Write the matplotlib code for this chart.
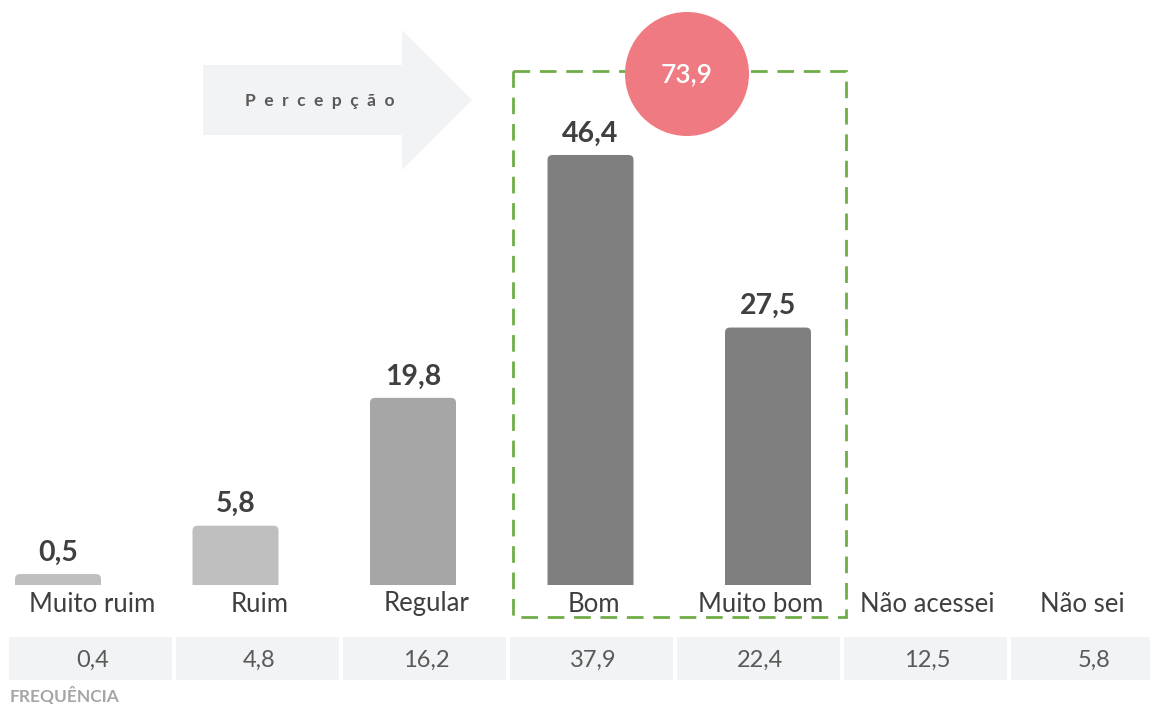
import matplotlib
matplotlib.use("Agg")
import matplotlib.pyplot as plt
from matplotlib.patches import FancyBboxPatch, Polygon, Rectangle, Circle

# ---- data ----
categories = ["Muito ruim", "Ruim", "Regular", "Bom", "Muito bom", "Não acessei", "Não sei"]
perception = [0.5, 5.8, 19.8, 46.4, 27.5]          # bars (first five categories)
frequency = [0.4, 4.8, 16.2, 37.9, 22.4, 12.5, 5.8]  # table row
bar_colors = ["#bfbfbf", "#bfbfbf", "#a6a6a6", "#7f7f7f", "#7f7f7f"]
highlight = [3, 4]  # Bom + Muito bom
arrow_label = "Percepção"
table_label = "FREQUÊNCIA"

W, H = 1156, 704
fam = ["Lato", "DejaVu Sans"]

def fmt(v):
    return f"{v:.1f}".replace(".", ",")

fig = plt.figure(figsize=(W / 100, H / 100), dpi=100)

# ---- bar axes ----
px_per_unit_y = 9.13
base_px = 585
bar_pitch = 177.5
first_center = 58
ax = fig.add_axes([0, (H - base_px) / H, 1, base_px / H])
y0 = -0.7
ax.set_ylim(y0, y0 + base_px / px_per_unit_y)
ax.set_xlim(-first_center / bar_pitch, (W - first_center) / bar_pitch)
ax.axis("off")

xs = list(range(len(perception)))
bars = ax.bar(xs, perception, width=86 / bar_pitch, color=bar_colors)
aspect = (1 / px_per_unit_y) / (1 / bar_pitch)
for rect, c in zip(bars.patches, bar_colors):
    x, w, h = rect.get_x(), rect.get_width(), rect.get_height()
    rect.remove()
    fb = FancyBboxPatch((x, -3), w, h + 3,
                        boxstyle=f"round,pad=0,rounding_size={5 / bar_pitch}",
                        mutation_aspect=aspect, facecolor=c, edgecolor="none")
    ax.add_patch(fb)
for x, v in zip(xs, perception):
    ax.annotate(fmt(v), (x, v), xytext=(0, 6), textcoords="offset points",
                ha="center", va="bottom", fontsize=20.5, fontweight="bold",
                color="#404040", family=fam)

# ---- decoration axes in pixel coordinates ----
d = fig.add_axes([0, 0, 1, 1], facecolor="none")
d.set_xlim(0, W)
d.set_ylim(H, 0)
d.axis("off")

# arrow
arrow = Polygon([(203, 65), (402, 65), (402, 30), (472, 100), (402, 170),
                 (402, 135), (203, 135)], closed=True,
                facecolor="#f2f3f5", edgecolor="none", zorder=0)
d.add_patch(arrow)
d.text(245, 101, "  ".join(arrow_label), ha="left", va="center", fontsize=12.5,
       fontweight="bold", color="#595959", family=fam)

# dashed highlight box
d.add_patch(Rectangle((513, 71), 846 - 513, 617 - 71, fill=False,
                      edgecolor="#70ad47", linewidth=2, linestyle=(0, (6, 3.5)), zorder=2))
# circle with sum
total = sum(perception[i] for i in highlight)
d.add_patch(Circle((687, 74), 62, facecolor="#f07a82", edgecolor="none", zorder=3))
d.text(687, 75, fmt(total), ha="center", va="center", fontsize=19,
       fontweight="semibold", color="white", family=fam, zorder=4)

# category labels and table
col_start, col_w, gap = 9, 167, 4
for i, (cat, f) in enumerate(zip(categories, frequency)):
    cx = col_start + col_w * i + col_w / 2
    lx = cx if i < len(categories) - 1 else cx - 12
    d.text(lx, 604, cat, ha="center", va="center", fontsize=18.5,
           color="#3f3f3f", family=fam)
    right = col_start + col_w * (i + 1) - gap
    if i == len(categories) - 1:
        right = 1150
    d.add_patch(Rectangle((col_start + col_w * i, 637), right - (col_start + col_w * i), 43,
                          facecolor="#f2f3f4", edgecolor="none"))
    d.text(cx, 660, fmt(f), ha="center", va="center", fontsize=17,
           color="#595959", family=fam)

d.text(10, 695, table_label, ha="left", va="center", fontsize=12.5,
       fontweight="bold", color="#a6a6a6", family=fam)

fig.savefig("out.png", dpi=100)
